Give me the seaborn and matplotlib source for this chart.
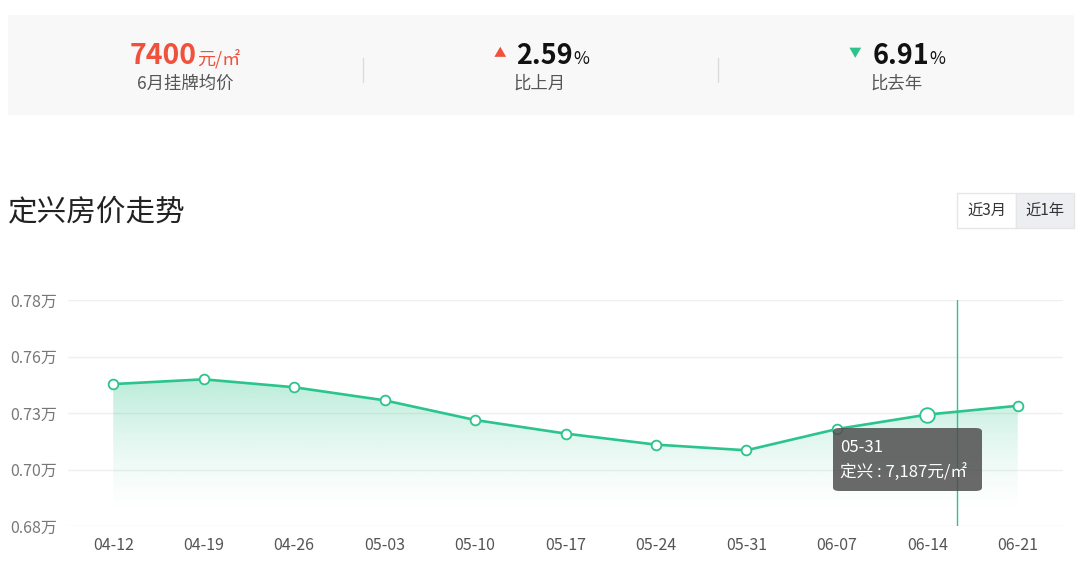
import numpy as np
import pandas as pd
import matplotlib
matplotlib.use("Agg")
import matplotlib.pyplot as plt
from matplotlib.patches import Rectangle, FancyBboxPatch
import seaborn as sns

# 数据
dates = ['04-12', '04-19', '04-26', '05-03', '05-10', '05-17',
         '05-24', '05-31', '06-07', '06-14', '06-21']
prices = [7428, 7449, 7414, 7356, 7269, 7209, 7160, 7135, 7229, 7293, 7332]
y_ticks = [6800, 7050, 7300, 7550, 7800]
y_labels = ['0.68万', '0.70万', '0.73万', '0.76万', '0.78万']
hover_idx = 9

# 风格
sns.set_style("white")
plt.rcParams['font.family'] = ['Noto Sans CJK SC', 'DejaVu Sans']

GREEN = '#2bc48d'
RED = '#f0513c'
W, H = 1080, 570

fig = plt.figure(figsize=(W / 100, H / 100), dpi=100)


def fx(px):
    return px / W


def fy(py):
    return 1 - py / H


# 顶部统计面板
fig.patches.append(Rectangle((fx(8), fy(115)), fx(1066), 100 / H,
                             transform=fig.transFigure, facecolor='#f8f8f8',
                             edgecolor='none', zorder=0))
for xd in [363, 718]:
    fig.add_artist(plt.Line2D([fx(xd), fx(xd)], [fy(58), fy(82)],
                              transform=fig.transFigure, color='#dcdcdc', lw=1))

fig.text(fx(197), fy(64), '7400', color=RED, fontsize=20.5, fontweight='bold',
         ha='right', va='baseline')
fig.text(fx(197), fy(64), '元/㎡', color=RED, fontsize=13, ha='left', va='baseline')
fig.text(fx(185), fy(84), '6月挂牌均价', color='#555555', fontsize=12.5,
         ha='center', va='center')

fig.text(fx(500), fy(54), '▲', color=RED, fontsize=9, ha='center', va='center')
fig.text(fx(573), fy(64), '2.59', color='#111111', fontsize=19.5, fontweight='bold',
         ha='right', va='baseline')
fig.text(fx(573), fy(64), '%', color='#111111', fontsize=12.5, ha='left', va='baseline')
fig.text(fx(540), fy(84), '比上月', color='#555555', fontsize=12.5,
         ha='center', va='center')

fig.text(fx(855), fy(54), '▼', color=GREEN, fontsize=9, ha='center', va='center')
fig.text(fx(929), fy(64), '6.91', color='#111111', fontsize=19.5, fontweight='bold',
         ha='right', va='baseline')
fig.text(fx(929), fy(64), '%', color='#111111', fontsize=12.5, ha='left', va='baseline')
fig.text(fx(897), fy(84), '比去年', color='#555555', fontsize=12.5,
         ha='center', va='center')

# 标题与按钮
fig.text(fx(8), fy(212), '定兴房价走势', color='#222222', fontsize=21.3,
         ha='left', va='center')
fig.patches.append(Rectangle((fx(957), fy(228)), fx(59), 35 / H,
                             transform=fig.transFigure, facecolor='white',
                             edgecolor='#e6e6e6', lw=1))
fig.patches.append(Rectangle((fx(1016), fy(228)), fx(58), 35 / H,
                             transform=fig.transFigure, facecolor='#eceef1',
                             edgecolor='#e6e6e6', lw=1))
fig.text(fx(986.5), fy(211), '近3月', color='#333333', fontsize=11,
         ha='center', va='center')
fig.text(fx(1045), fy(211), '近1年', color='#333333', fontsize=11,
         ha='center', va='center')

# 折线图
ax = fig.add_axes([fx(68), fy(526), fx(995), 226 / H])
idx = np.arange(len(dates))
df = pd.DataFrame({'idx': idx, 'price': prices})

sns.lineplot(data=df, x='idx', y='price', color=GREEN, lw=1.9, marker='o',
             ms=7, mfc='white', mec=GREEN, mew=1.3, ax=ax, zorder=4)
ax.plot(idx[hover_idx], prices[hover_idx], 'o', ms=10.5, mfc='white',
        mec=GREEN, mew=1.3, zorder=5)

# 渐变填充
poly = ax.fill_between(idx, prices, y_ticks[0], color='none', lw=0)
ymax = max(prices)
vals = np.linspace(y_ticks[0], ymax, 256)
alpha = 0.32 * np.clip((vals - 6860) / (ymax - 6860), 0, 1) ** 1.4
rgba = np.zeros((256, 1, 4))
rgba[..., :3] = matplotlib.colors.to_rgb(GREEN)
rgba[:, 0, 3] = alpha
im = ax.imshow(rgba, extent=[idx[0], idx[-1], y_ticks[0], ymax], origin='lower',
               aspect='auto', zorder=1, interpolation='bilinear')
im.set_clip_path(poly.get_paths()[0], transform=ax.transData)

ax.set_xlim(-0.5, len(dates) - 0.5)
ax.set_ylim(y_ticks[0], y_ticks[-1])
ax.set_yticks(y_ticks)
ax.set_yticklabels(y_labels)
ax.set_xticks(idx)
ax.set_xticklabels(dates)
ax.tick_params(axis='y', length=0, pad=8, labelsize=11.5, labelcolor='#777777')
ax.tick_params(axis='x', length=0, pad=8, labelsize=11.5, labelcolor='#555555')
ax.set_xlabel('')
ax.set_ylabel('')
for s in ax.spines.values():
    s.set_visible(False)
ax.grid(axis='y', color='#efefef', lw=1)
ax.set_axisbelow(True)

# 悬停指示线与提示框
ax.axvline(9.33, color=GREEN, lw=1, zorder=6)
ax.add_patch(FancyBboxPatch((fx(833), fy(491)), fx(149), 63 / H,
                            boxstyle='round,pad=0,rounding_size=0.006',
                            transform=fig.transFigure, facecolor='#4f4f4f',
                            edgecolor='none', alpha=0.85, zorder=7))
fig.text(fx(840), fy(447), '05-31', color='white', fontsize=12,
         ha='left', va='center', zorder=8)
fig.text(fx(840), fy(473), '定兴 : 7,187元/㎡', color='white', fontsize=12,
         ha='left', va='center', zorder=8)

fig.savefig('out.png', dpi=100)
